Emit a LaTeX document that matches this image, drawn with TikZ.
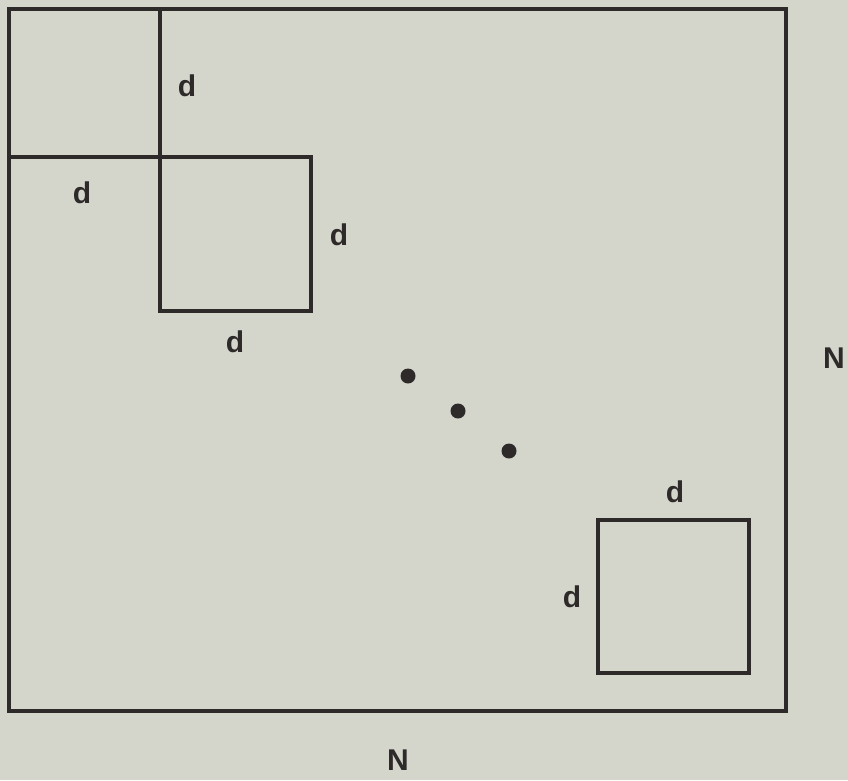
\documentclass[tikz,border=0pt]{standalone}
\usepackage{fontspec}
\setmainfont{Liberation Sans}
\definecolor{bg}{HTML}{D4D6CB}
\definecolor{ink}{HTML}{2E2A2A}
\begin{document}
\begin{tikzpicture}[x=1pt,y=-1pt,
  frame/.style={draw=ink,line width=3.6pt,line join=miter},
  lbl/.style={text=ink,font=\fontsize{30}{30}\selectfont\bfseries,inner sep=0pt,anchor=center},
  dot/.style={circle,fill=ink,minimum size=15pt,inner sep=0pt}]
\fill[bg] (0,0) rectangle (848,780);
\useasboundingbox (0,0) rectangle (848,780);
% outer square
\draw[frame] (9,9) rectangle (786,711);
% first block
\draw[frame] (160,9) -- (160,157);
\draw[frame] (9,157) -- (160,157);
% second block
\draw[frame] (160,157) rectangle (311,311);
% last block
\draw[frame] (598,520) rectangle (749,673);
% dots
\node[dot] (p1) at (408,376) {};
\node[dot] (p2) at (458,411) {};
\node[dot] (p3) at (509,451) {};
% labels
\node[lbl] (d1) at (187,86) {d};
\node[lbl] (d2) at (82,193) {d};
\node[lbl] (d3) at (339,235) {d};
\node[lbl] (d4) at (235,342) {d};
\node[lbl] (d5) at (675,492) {d};
\node[lbl] (d6) at (572,597) {d};
\node[lbl] (n1) at (834,358) {N};
\node[lbl] (n2) at (398,760) {N};
\end{tikzpicture}
\end{document}
